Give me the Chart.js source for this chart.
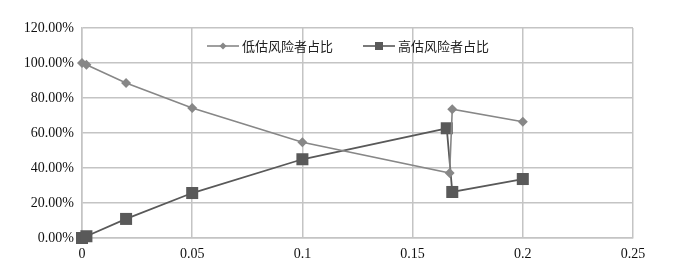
<!DOCTYPE html>
<html>
<head>
<meta charset="utf-8">
<script src="https://cdn.jsdelivr.net/npm/chart.js@4/dist/chart.umd.min.js"></script>
<style>
  html, body { margin: 0; padding: 0; background: #fff; }
  #wrap { position: relative; width: 678px; height: 274px; }
  #legend {
    position: absolute; left: 207px; top: 38px;
    display: flex; align-items: center;
    font-family: "Noto Sans CJK SC", sans-serif; font-size: 13px; color: #222;
    line-height: 16px;
  }
  .legend-item { display: flex; align-items: center; margin-right: 30px; }
  .legend-item canvas { margin-right: 3px; }
</style>
</head>
<body>
<div id="wrap">
  <canvas id="chart" width="678" height="274"></canvas>
  <div id="legend"></div>
</div>
<script>
// ===== dados =====
const seriesNames = ['低估风险者占比', '高估风险者占比'];
const lowX  = [0, 0.002, 0.02, 0.05, 0.1, 0.1668, 0.168, 0.2];
const lowY  = [1.00, 0.99, 0.886, 0.743, 0.547, 0.371, 0.736, 0.664];
const highX = [0, 0.002, 0.02, 0.05, 0.1, 0.1655, 0.168, 0.2];
const highY = [0.00, 0.01, 0.109, 0.257, 0.450, 0.627, 0.263, 0.337];
const xTicks = [0, 0.05, 0.1, 0.15, 0.2, 0.25];
const yTicks = [0, 0.2, 0.4, 0.6, 0.8, 1.0, 1.2];

const lowColor = '#878787';
const highColor = '#595959';
const gridColor = '#c4c4c4';
const fontFamily = '"Liberation Serif", "Noto Sans CJK SC", serif';

function toPoints(xs, ys) {
  return xs.map((x, i) => ({ x: x, y: ys[i] }));
}

// icone da legenda: linha - marcador - linha
function legendIcon(color, shape) {
  const c = document.createElement('canvas');
  c.width = 32;
  c.height = 12;
  const ctx = c.getContext('2d');
  ctx.strokeStyle = color;
  ctx.lineWidth = 1.6;
  ctx.beginPath();
  ctx.moveTo(0, 6);
  ctx.lineTo(32, 6);
  ctx.stroke();
  ctx.fillStyle = color;
  ctx.beginPath();
  if (shape === 'diamond') {
    ctx.moveTo(16, 2.5);
    ctx.lineTo(19.5, 6);
    ctx.lineTo(16, 9.5);
    ctx.lineTo(12.5, 6);
    ctx.closePath();
  } else {
    ctx.rect(12, 2, 8, 8);
  }
  ctx.fill();
  return c;
}

function renderLegend(chart, containerId) {
  const container = document.getElementById(containerId);
  container.innerHTML = '';
  const shapes = ['diamond', 'square'];

  chart.data.datasets.forEach((ds, i) => {
    const item = document.createElement('div');
    item.className = 'legend-item';
    item.appendChild(legendIcon(ds.borderColor, shapes[i]));

    const label = document.createElement('span');
    label.textContent = ds.label;
    item.appendChild(label);

    container.appendChild(item);
  });
}

const chart = new Chart(document.getElementById('chart'), {
  type: 'scatter',
  data: {
    datasets: [
      {
        label: seriesNames[0],
        data: toPoints(lowX, lowY),
        showLine: true,
        clip: false,
        borderColor: lowColor,
        backgroundColor: lowColor,
        borderWidth: 1.6,
        pointStyle: 'rectRot',
        pointRadius: 5,
        pointBorderWidth: 0,
        pointHoverRadius: 5
      },
      {
        label: seriesNames[1],
        data: toPoints(highX, highY),
        showLine: true,
        clip: false,
        borderColor: highColor,
        backgroundColor: highColor,
        borderWidth: 1.8,
        pointStyle: 'rect',
        pointRadius: 8.5,
        pointBorderWidth: 0,
        pointHoverRadius: 8.5
      }
    ]
  },
  options: {
    responsive: false,
    animation: false,
    layout: {
      padding: { top: 28, right: 45, left: 0, bottom: 0 }
    },
    plugins: {
      tooltip: { enabled: false },
      legend: { display: false }
    },
    scales: {
      x: {
        type: 'linear',
        min: 0,
        max: 0.25,
        afterFit: s => { s.height = 36; },
        afterBuildTicks: s => { s.ticks = xTicks.map(v => ({ value: v })); },
        grid: { color: gridColor, lineWidth: 1.5, drawTicks: false },
        border: { color: gridColor, width: 1.5 },
        ticks: {
          color: '#111',
          padding: 8,
          font: { family: fontFamily, size: 14 },
          callback: v => String(v)
        }
      },
      y: {
        min: 0,
        max: 1.2,
        afterFit: s => { s.width = 82; },
        afterBuildTicks: s => { s.ticks = yTicks.map(v => ({ value: v })); },
        grid: { color: gridColor, lineWidth: 1.5, drawTicks: false },
        border: { color: gridColor, width: 1.5 },
        ticks: {
          color: '#111',
          padding: 8,
          font: { family: fontFamily, size: 14 },
          callback: v => (v * 100).toFixed(2) + '%'
        }
      }
    }
  }
});

renderLegend(chart, 'legend');
</script>
</body>
</html>
